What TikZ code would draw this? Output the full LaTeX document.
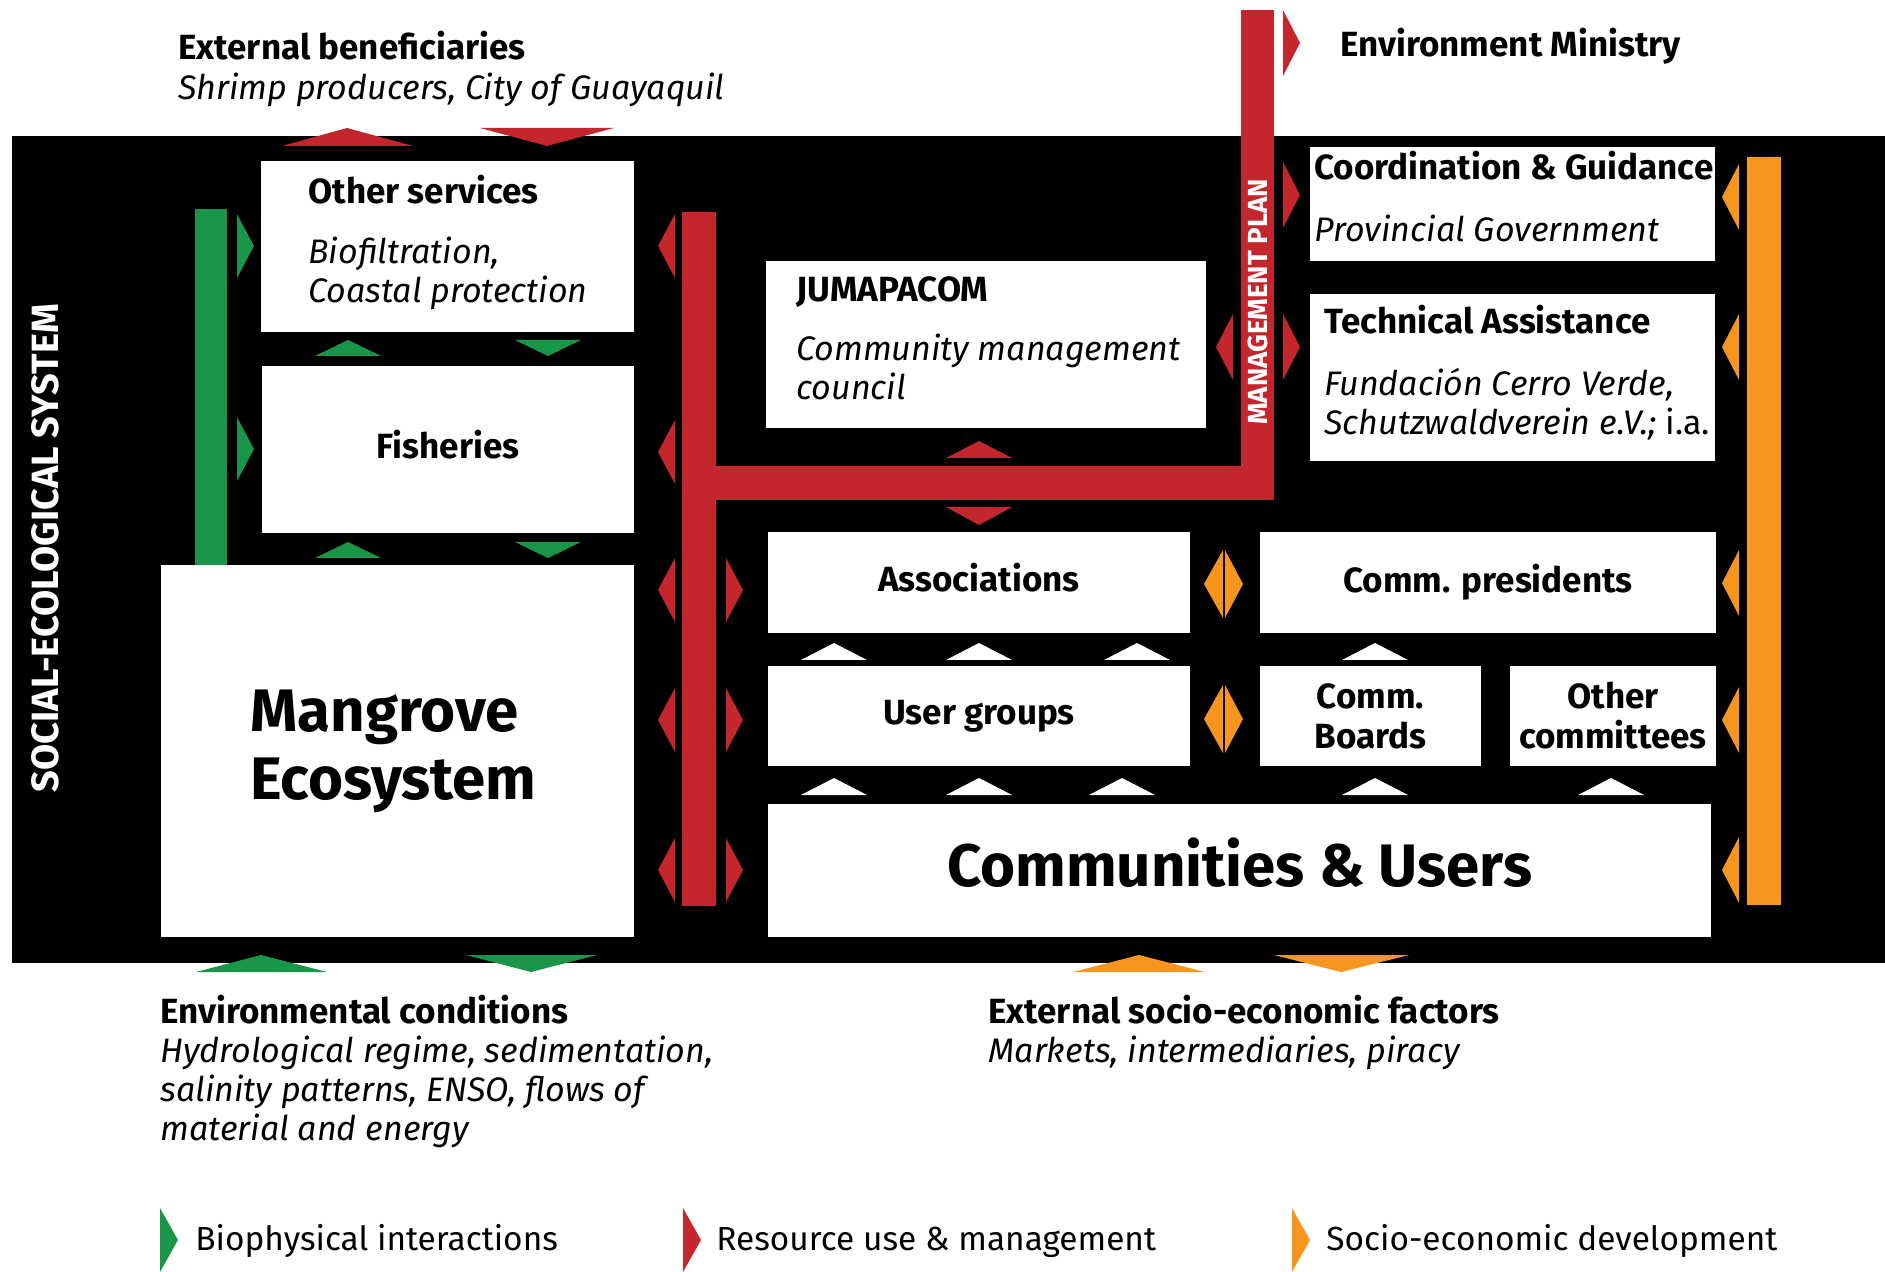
\documentclass[tikz,border=0pt]{standalone}
\usepackage{fontspec}
\setmainfont{Fira Sans}
\definecolor{segreen}{RGB}{26,150,72}
\definecolor{sered}{RGB}{196,38,46}
\definecolor{seorange}{RGB}{246,150,30}
\tikzset{
    box/.style={fill=white, inner sep=0pt, outer sep=0pt, align=center,
        font=\fontsize{17.5}{20}\selectfont\bfseries},
    head/.style={inner sep=0pt, anchor=base west, font=\fontsize{17.5}{20}\selectfont\bfseries},
    sub/.style={inner sep=0pt, anchor=base west, align=left,
        font=\fontsize{17}{19.5}\selectfont\itshape},
    legend/.style={inner sep=0pt, anchor=base west, font=\fontsize{16.7}{20}\selectfont},
}
\begin{document}
\begin{tikzpicture}[x=0.5pt, y=-0.5pt]
                \useasboundingbox (0,0) rectangle (1885,1272);
                \fill [black] (12,136) rectangle (1885,963);
                \node [rotate=90, text=white, font=\fontsize{19}{19}\selectfont\bfseries] (ses) at (45,548) {SOCIAL-ECOLOGICAL SYSTEM};

                % bars
                \fill [segreen] (195,209) rectangle (227,565);
                \fill [sered] (682,212) rectangle (716,906);
                \fill [sered] (682,466) rectangle (1274,500);
                \fill [sered] (1241,10) rectangle (1274,500);
                \fill [seorange] (1747,157) rectangle (1781,905);
                \node [rotate=90, text=white, font=\fontsize{13.8}{14}\selectfont\bfseries] (plan) at (1257.5,302) {MANAGEMENT PLAN};

                % boxes
                \node [box, minimum width=186.5pt, minimum height=85.5pt] (other) at (447.5,246.5) {};
                \node [box, minimum width=186pt, minimum height=83.5pt, text depth=5pt] (fish) at (448,449.5) {Fisheries};
                \node [box, minimum width=236.5pt, minimum height=186pt] (mangrove) at (397.5,751) {};
                \node [box, minimum width=220pt, minimum height=83.5pt] (juma) at (986,344.5) {};
                \node [box, minimum width=202.5pt, minimum height=57pt] (coord) at (1512.5,204) {};
                \node [box, minimum width=202.5pt, minimum height=83.5pt] (tech) at (1512.5,377.5) {};
                \node [box, minimum width=211pt, minimum height=50.5pt, text depth=5pt] (assoc) at (979,582.5) {Associations};
                \node [box, minimum width=228pt, minimum height=50.5pt] (pres) at (1488,582.5) {Comm. presidents};
                \node [box, minimum width=211pt, minimum height=50pt] (users) at (979,716) {User groups};
                \node [box, minimum width=110.5pt, minimum height=50pt] (boards) at (1370.5,716) {Comm.\\Boards};
                \node [box, minimum width=103pt, minimum height=50pt] (otherc) at (1613,716) {Other\\committees};
                \node [box, minimum width=471.5pt, minimum height=66.5pt, text depth=8pt, font=\fontsize{30}{34}\selectfont\bfseries] (comm) at (1239.5,870.5) {Communities \& Users};

                % box texts (multi-line nodes sit on their last baseline)
                \node [head] (othert) at (308,204) {Other services};
                \node [sub] (others) at (308,303) {Biofiltration,\\Coastal protection};
                \node [head, font=\fontsize{30}{34}\selectfont\bfseries, align=left] (mangrovet) at (250,799) {Mangrove\\Ecosystem};
                \node [head] (jumat) at (796,302) {JUMAPACOM};
                \node [sub] (jumas) at (796,400) {Community management\\council};
                \node [head] (coordt) at (1314,180) {Coordination \& Guidance};
                \node [sub] (coords) at (1314,242) {Provincial Government};
                \node [head] (techt) at (1324,334) {Technical Assistance};
                \node [sub] (techs) at (1324,435) {Fundación Cerro Verde,\\Schutzwaldverein e.V.; \upshape i.a.};

                % outside texts
                \node [head] (extben) at (178,60) {External beneficiaries};
                \node [sub] (extbens) at (178,100) {Shrimp producers, City of Guayaquil};
                \node [head] (envmin) at (1340,57) {Environment Ministry};
                \node [head] (envcon) at (160,1023) {Environmental conditions};
                \node [sub] (envcons) at (160,1140) {Hydrological regime, sedimentation,\\salinity patterns, ENSO, flows of\\material and energy};
                \node [head] (socio) at (988,1023) {External socio-economic factors};
                \node [sub] (socios) at (988,1062) {Markets, intermediaries, piracy};

                % side arrows
                \foreach \y in {246,449}
                    \fill [segreen] (237,\y-32) -- (254,\y) -- (237,\y+32) -- cycle;
                \foreach \y in {246,452,590,720,870}
                    \fill [sered] (675,\y-32) -- (658,\y) -- (675,\y+32) -- cycle;
                \foreach \y in {590,720,870}
                    \fill [sered] (726,\y-32) -- (743,\y) -- (726,\y+32) -- cycle;
                \foreach \y in {43,195,347}
                    \fill [sered] (1283,\y-33) -- (1300,\y) -- (1283,\y+33) -- cycle;
                \fill [sered] (1233,314) -- (1216,347) -- (1233,380) -- cycle;
                \foreach \y in {197,347,583,720,870}
                    \fill [seorange] (1739,\y-33) -- (1722,\y) -- (1739,\y+33) -- cycle;
                \foreach \y in {584,719} {
                    \fill [seorange] (1223,\y-34) -- (1204,\y) -- (1223,\y+34) -- cycle;
                    \fill [seorange] (1225,\y-34) -- (1243,\y) -- (1225,\y+34) -- cycle;
                }

                % flat arrows
                \fill [sered] (282,146) -- (347,128) -- (413,146) -- cycle;
                \fill [sered] (480,128) -- (614,128) -- (547,146) -- cycle;
                \foreach \y in {340,542} {
                    \fill [segreen] (315,\y+16) -- (348,\y) -- (381,\y+16) -- cycle;
                    \fill [segreen] (515,\y) -- (581,\y) -- (548,\y+16) -- cycle;
                }
                \fill [sered] (946,458) -- (979,441) -- (1012,458) -- cycle;
                \fill [sered] (946,507) -- (1012,507) -- (979,525) -- cycle;
                \foreach \x in {834,979,1137,1375}
                    \fill [white] (\x-33,660) -- (\x,643) -- (\x+33,660) -- cycle;
                \foreach \x in {834,979,1122,1375,1611}
                    \fill [white] (\x-33,795) -- (\x,778) -- (\x+33,795) -- cycle;
                \fill [segreen] (196,972) -- (261,955) -- (327,972) -- cycle;
                \fill [segreen] (466,955) -- (597,955) -- (531,972) -- cycle;
                \fill [seorange] (1073,972) -- (1139,955) -- (1205,972) -- cycle;
                \fill [seorange] (1274,955) -- (1409,955) -- (1341,972) -- cycle;

                % legend
                \foreach \x/\c in {160/segreen, 683/sered, 1292/seorange}
                    \fill [\c] (\x,1208) -- (\x+18,1240) -- (\x,1272) -- cycle;
                \node [legend] (bio) at (195,1250) {Biophysical interactions};
                \node [legend] (res) at (716,1250) {Resource use \& management};
                \node [legend] (dev) at (1326,1250) {Socio-economic development};
\end{tikzpicture}
\end{document}
